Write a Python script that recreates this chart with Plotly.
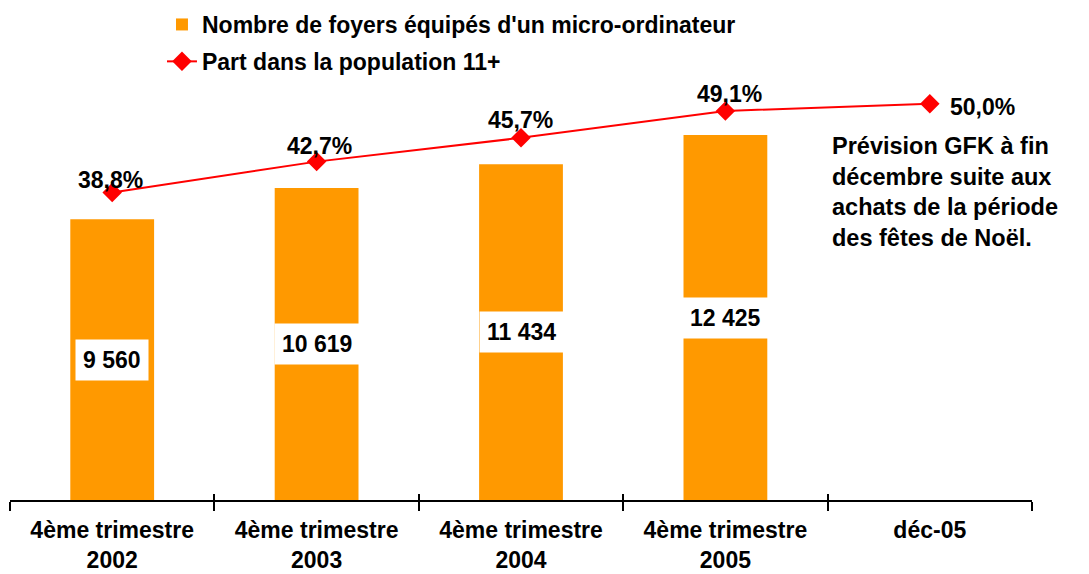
import plotly.graph_objects as go

categories = ["4ème trimestre<br>2002", "4ème trimestre<br>2003", "4ème trimestre<br>2004",
              "4ème trimestre<br>2005", "déc-05"]
foyers = [9560, 10619, 11434, 12425, None]
foyers_labels = ["9 560", "10 619", "11 434", "12 425"]
part = [38.8, 42.7, 45.7, 49.1, 50.0]
part_labels = ["38,8%", "42,7%", "45,7%", "49,1%", "50,0%"]
note = "Prévision GFK à fin<br>décembre suite aux<br>achats de la période<br>des fêtes de Noël."

# label placement styles (pixel offsets from each point)
part_xshift = [-2, 3, -1, 4, 18]
part_yshift = [13, 16, 18, 17, -3]
part_xanchor = ["center", "center", "center", "center", "left"]

FONT = "Liberation Sans, Arial, sans-serif"
ORANGE = "#FF9900"
RED = "#FF0000"
FS = 23

fig = go.Figure()
fig.add_trace(go.Bar(
    x=categories, y=foyers, name="<b>Nombre de foyers équipés d'un micro-ordinateur</b>",
    marker=dict(color=ORANGE, line=dict(width=0)), xaxis="x", yaxis="y",
    legendgroup="a",
))
fig.add_trace(go.Scatter(
    x=categories, y=part, name="<b>Part dans la population 11+</b>",
    mode="lines+markers",
    line=dict(color=RED, width=2), marker=dict(symbol="diamond", size=15, color=RED),
    xaxis="x2", yaxis="y2", cliponaxis=False, legendgroup="b",
))

for c, v, lab in zip(categories, foyers, foyers_labels):
    fig.add_annotation(x=c, y=v / 2, xref="x", yref="y", text="<b>%s</b>" % lab,
                       showarrow=False, bgcolor="#FFFFFF", borderpad=7,
                       font=dict(size=FS, color="#000000", family=FONT))

for c, v, lab, xs, ys, xa in zip(categories, part, part_labels, part_xshift, part_yshift, part_xanchor):
    fig.add_annotation(x=c, y=v, xref="x2", yref="y2", text="<b>%s</b>" % lab,
                       showarrow=False, xanchor=xa, yanchor="middle",
                       xshift=xs, yshift=ys,
                       font=dict(size=FS, color="#000000", family=FONT))

fig.add_annotation(x=0.8023, y=(500 - 131) / 420, xref="paper", yref="paper",
                   xanchor="left", yanchor="top", align="left", showarrow=False,
                   text="<b>%s</b>" % note,
                   font=dict(size=23.5, color="#000000", family=FONT))

fig.update_layout(
    width=1089, height=574,
    margin=dict(l=10, r=57, t=80, b=74, autoexpand=False),
    paper_bgcolor="#FFFFFF", plot_bgcolor="#FFFFFF",
    font=dict(family=FONT, color="#000000", size=FS),
    bargap=0.59,
    showlegend=True,
    legend=dict(x=0.1487, y=(500 - 3) / 420, xanchor="left", yanchor="top",
                font=dict(size=FS, family=FONT, color="#000000"),
                tracegroupgap=4, bgcolor="rgba(0,0,0,0)"),
    xaxis=dict(type="category", showline=True, linecolor="#000000", linewidth=2,
               ticks="outside", ticklen=9, tickwidth=2, tickcolor="#000000",
               tickson="boundaries", showgrid=False, zeroline=False,
               ticklabelstandoff=8, automargin=False,
               tickfont=dict(size=FS, family=FONT, color="#000000"),
               tickprefix="<b>", ticksuffix="</b>"),
    xaxis2=dict(type="category", overlaying="x", matches="x", side="bottom",
                ticks="inside", ticklen=6, tickwidth=2, tickcolor="#000000",
                tickson="boundaries", showticklabels=False, showgrid=False,
                showline=False, zeroline=False, automargin=False),
    yaxis=dict(range=[0, 14300], visible=False, showgrid=False, zeroline=False),
    yaxis2=dict(range=[0, 53], overlaying="y", visible=False, showgrid=False,
                zeroline=False),
)

fig.write_html("out.html", config={"displayModeBar": False},
               post_script="document.body.style.margin='0px';")
